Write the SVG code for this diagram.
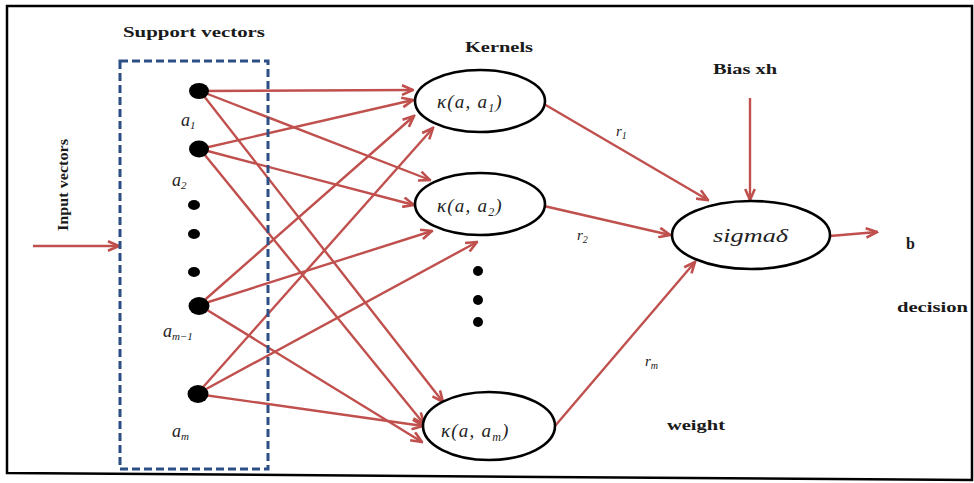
<svg xmlns="http://www.w3.org/2000/svg" width="974" height="483" viewBox="0 0 974 483">
<defs>
<marker id="arr" viewBox="0 0 14 12" refX="12.5" refY="6" markerWidth="14" markerHeight="12" markerUnits="userSpaceOnUse" orient="auto">
<path d="M1.5,1.2 L12.5,6 L1.5,10.8" fill="none" stroke="#c0504d" stroke-width="2.6" stroke-linejoin="miter"/>
</marker>
<style>
.ln{stroke:#c0504d;stroke-width:2.4;fill:none;marker-end:url(#arr)}
.ov{fill:#fff;stroke:#000;stroke-width:2.6}
.dot{fill:#000}
.lb{font-family:"Liberation Serif",serif;font-weight:bold;font-size:14px;fill:#1a1a1a}
.it{font-family:"Liberation Serif",serif;font-style:italic;font-size:18px;fill:#222}
</style>
</defs>
<rect width="974" height="483" fill="#fff"/>
<path id="frame" d="M7,6 H972 V480 L7,473 Z" fill="none" stroke="#000" stroke-width="2.5"/>

<g id="connectors">
<line class="ln" x1="33" y1="246" x2="119" y2="246"/>
<line class="ln" x1="200" y1="91" x2="413" y2="90"/>
<line class="ln" x1="200" y1="91" x2="430" y2="180"/>
<line class="ln" x1="200" y1="91" x2="443" y2="402"/>
<line class="ln" x1="200" y1="149" x2="413" y2="100"/>
<line class="ln" x1="200" y1="149" x2="414" y2="205"/>
<line class="ln" x1="200" y1="149" x2="424" y2="424"/>
<line class="ln" x1="199" y1="305" x2="414" y2="116"/>
<line class="ln" x1="199" y1="305" x2="432" y2="231"/>
<line class="ln" x1="199" y1="305" x2="422" y2="442"/>
<line class="ln" x1="197" y1="394" x2="433" y2="128"/>
<line class="ln" x1="197" y1="394" x2="477" y2="242"/>
<line class="ln" x1="197" y1="394" x2="423" y2="426"/>
<line class="ln" x1="544" y1="104" x2="708" y2="200"/>
<line class="ln" x1="544" y1="206" x2="670" y2="235"/>
<line class="ln" x1="555" y1="426" x2="695" y2="262"/>
<line class="ln" x1="750" y1="98" x2="750" y2="200"/>
<line class="ln" x1="830" y1="236" x2="877" y2="232"/>
</g>

<g id="support-vectors">
<rect x="120" y="61" width="148" height="408" fill="none" stroke="#2d4f86" stroke-width="3" stroke-dasharray="8,4"/>
<text class="lb" x="123" y="37" textLength="142" lengthAdjust="spacingAndGlyphs">Support vectors</text>
</g>
<g id="input-label">
<text class="lb" transform="translate(68,231) rotate(-90)" x="0" y="0" style="font-size:15px" textLength="92" lengthAdjust="spacingAndGlyphs">Input vectors</text>
</g>

<g id="sv-a1">
<ellipse class="dot" cx="199" cy="91" rx="10" ry="8"/>
<text class="it" x="181" y="126">a<tspan font-size="11" dy="3">1</tspan></text>
</g>
<g id="sv-a2">
<ellipse class="dot" cx="199" cy="149" rx="10" ry="8.5"/>
<text class="it" x="172" y="186">a<tspan font-size="11" dy="3">2</tspan></text>
</g>
<g id="sv-dots">
<ellipse class="dot" cx="194" cy="205" rx="6" ry="5"/>
<ellipse class="dot" cx="194" cy="234" rx="6" ry="5"/>
<ellipse class="dot" cx="194" cy="272" rx="6" ry="5"/>
</g>
<g id="sv-am1">
<ellipse class="dot" cx="199" cy="306" rx="10.5" ry="9"/>
<text class="it" x="163" y="337">a<tspan font-size="11" dy="3">m−1</tspan></text>
</g>
<g id="sv-am">
<ellipse class="dot" cx="198" cy="394" rx="10.5" ry="9"/>
<text class="it" x="172" y="437">a<tspan font-size="11" dy="3">m</tspan></text>
</g>

<g id="kernels-title">
<text class="lb" x="465" y="52" textLength="68" lengthAdjust="spacingAndGlyphs">Kernels</text>
</g>
<g id="kernel-1">
<ellipse class="ov" cx="480" cy="101" rx="65" ry="31"/>
<text class="it" x="437" y="108" style="font-size:19px;letter-spacing:1.2px">κ(a, a<tspan font-size="12" dy="4">1</tspan><tspan dy="-4">)</tspan></text>
</g>
<g id="kernel-2">
<ellipse class="ov" cx="480" cy="204" rx="65" ry="31"/>
<text class="it" x="437" y="212" style="font-size:19px;letter-spacing:1.2px">κ(a, a<tspan font-size="12" dy="4">2</tspan><tspan dy="-4">)</tspan></text>
</g>
<g id="kernel-dots">
<circle class="dot" cx="478" cy="271" r="5"/>
<circle class="dot" cx="478" cy="300" r="5"/>
<circle class="dot" cx="478" cy="322" r="5"/>
</g>
<g id="kernel-m">
<ellipse class="ov" cx="489" cy="426" rx="66" ry="34"/>
<text class="it" x="441" y="437" style="font-size:19px;letter-spacing:1.2px">κ(a, a<tspan font-size="12" dy="4">m</tspan><tspan dy="-4">)</tspan></text>
</g>

<g id="weights">
<text class="it" x="616" y="136" style="font-size:15px">r<tspan font-size="10" dy="3">1</tspan></text>
<text class="it" x="577" y="240" style="font-size:15px">r<tspan font-size="10" dy="3">2</tspan></text>
<text class="it" x="645" y="366" style="font-size:15px">r<tspan font-size="10" dy="3">m</tspan></text>
<text class="lb" x="667" y="430" textLength="58" lengthAdjust="spacingAndGlyphs">weight</text>
</g>

<g id="bias">
<text class="lb" x="713" y="74" textLength="64" lengthAdjust="spacingAndGlyphs">Bias xh</text>
</g>
<g id="sigma">
<ellipse class="ov" cx="751" cy="235" rx="79" ry="34"/>
<text class="it" x="713" y="242" textLength="75" lengthAdjust="spacingAndGlyphs">sigmaδ</text>
</g>
<g id="output">
<text class="lb" x="906" y="249" style="font-size:16px">b</text>
<text class="lb" x="897" y="312" textLength="71" lengthAdjust="spacingAndGlyphs">decision</text>
</g>
</svg>
